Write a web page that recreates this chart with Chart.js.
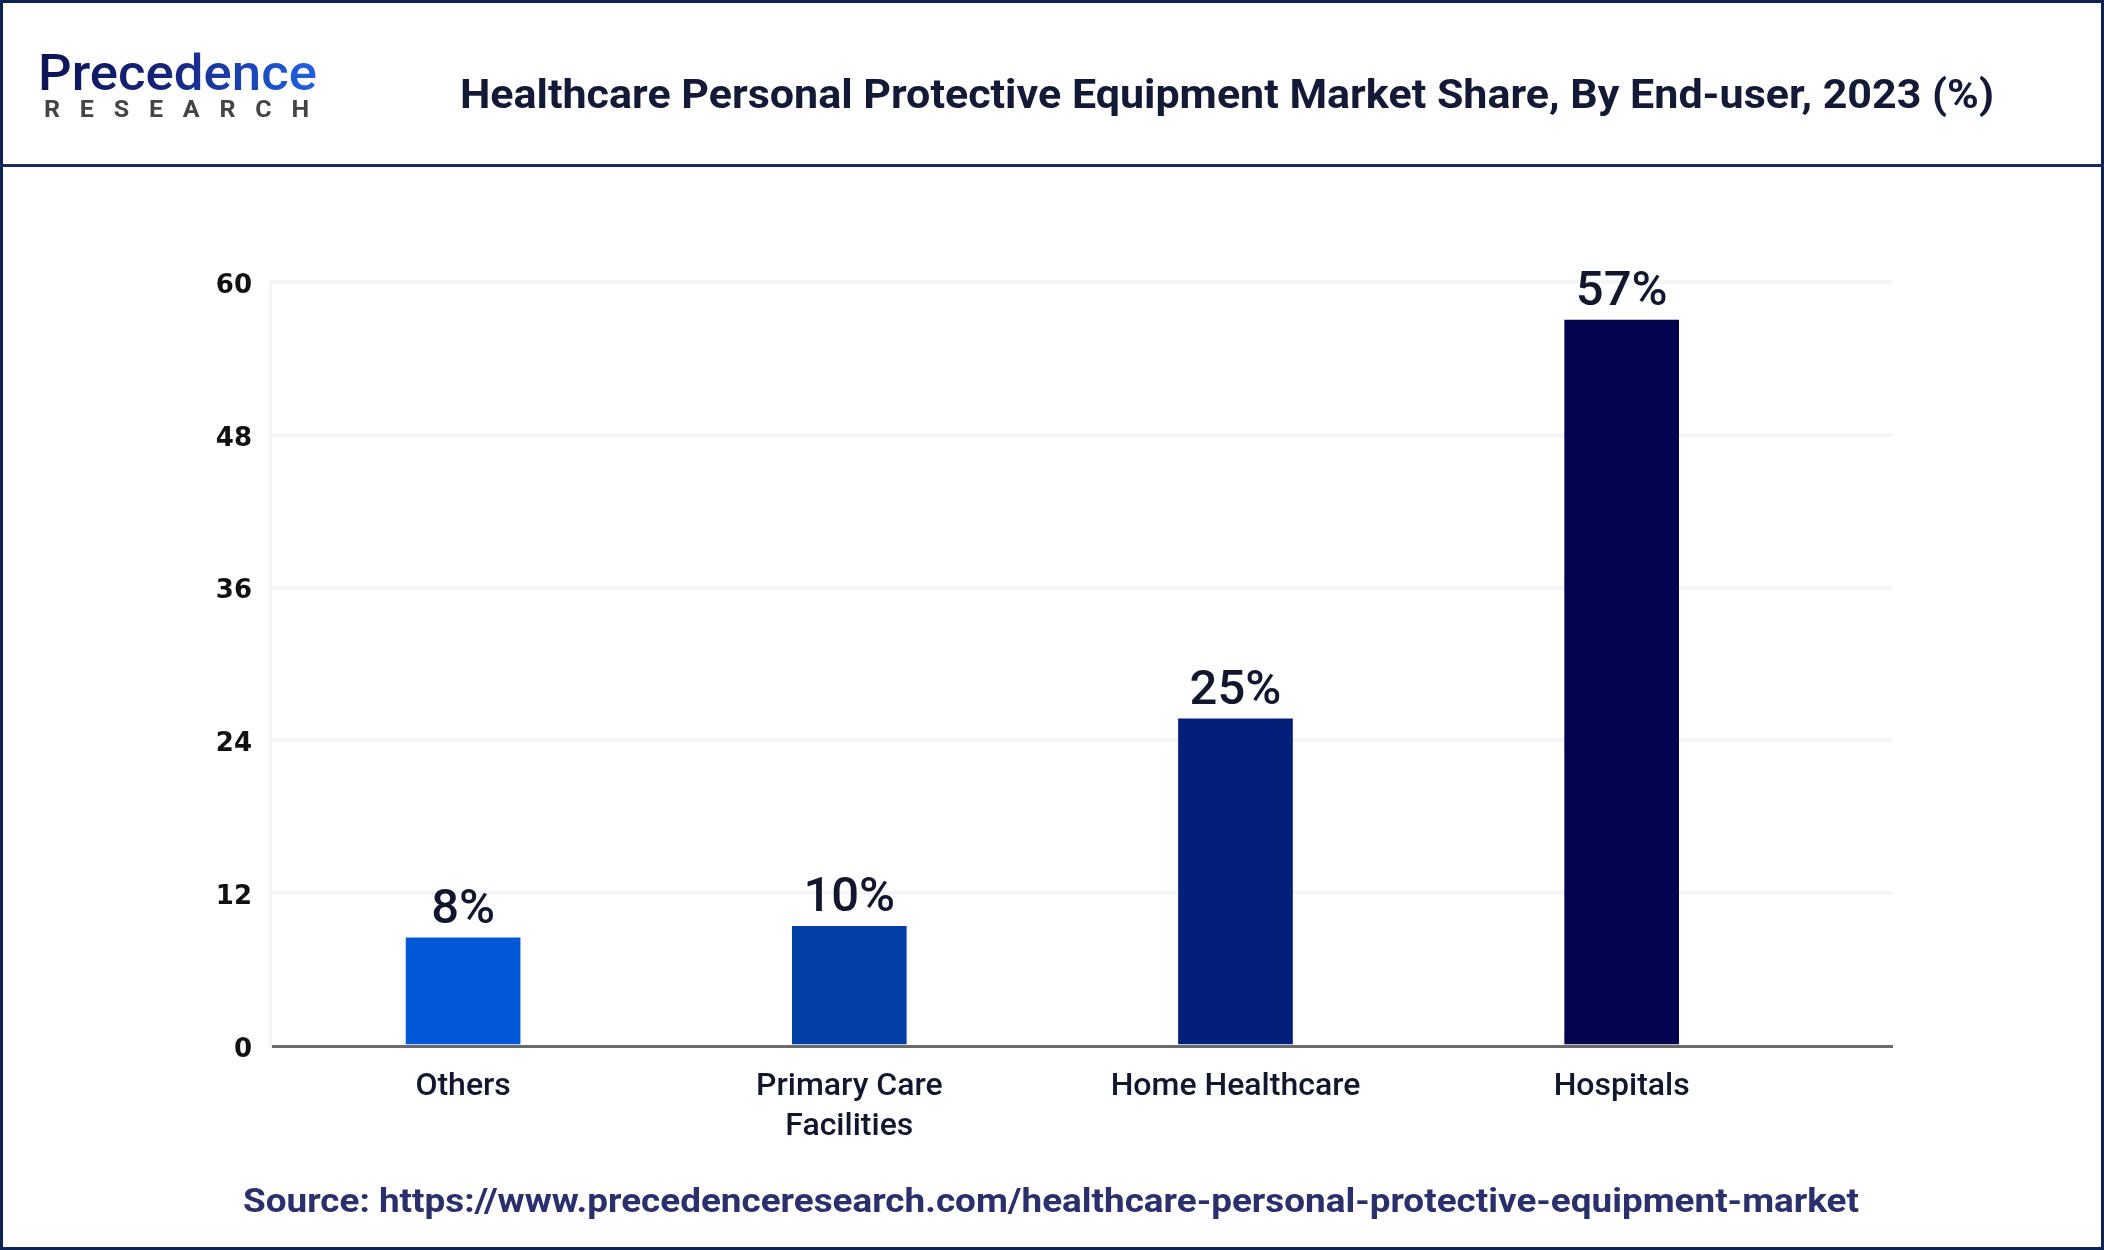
<!DOCTYPE html>
<html>
<head>
<meta charset="utf-8">
<script src="https://cdn.jsdelivr.net/npm/chart.js@4/dist/chart.umd.min.js"></script>
<style>
  html, body { margin: 0; padding: 0; background: #fff; }
  #page { position: relative; width: 2104px; height: 1250px; overflow: hidden; background: #fff; }
  #frame { position: absolute; left: 0; top: 0; width: 2098px; height: 1244px; border: 3px solid #0d2452; }
  #hline { position: absolute; left: 0; top: 164px; width: 2104px; height: 3px; background: #1b2a5e; }
  .txt { position: absolute; white-space: nowrap; line-height: 1; transform-origin: 0 0; }
  #title { left: 460px; top: 70px; font: 700 41px Roboto, sans-serif; color: #141a36; }
  #source { left: 243px; top: 1180px; font: 700 34px Roboto, sans-serif; color: #2b2f6b; }
  #logo1 { left: 38px; top: 44px; font: 500 50px Roboto, sans-serif;
           background: linear-gradient(90deg, #0c1456 0%, #16237a 45%, #1f62e6 100%);
           -webkit-background-clip: text; background-clip: text; color: transparent; }
  #logo2 { left: 44px; top: 95px; font: 700 24px Roboto, sans-serif; color: #444; letter-spacing: 19px; }
  #chartbox { position: absolute; left: 0; top: 170px; width: 2104px; height: 1000px; }
</style>
</head>
<body>
<div id="page">
  <div id="frame"></div>
  <div id="hline"></div>
  <div id="logo1" class="txt">Precedence</div>
  <div id="logo2" class="txt">RESEARCH</div>
  <div id="title" class="txt">Healthcare Personal Protective Equipment Market Share, By End-user, 2023 (%)</div>
  <div id="chartbox"><canvas id="c" width="2104" height="1000"></canvas></div>
  <div id="source" class="txt">Source: https://www.precedenceresearch.com/healthcare-personal-protective-equipment-market</div>
</div>
<script>
// ---- data ----
const categories = [["Others"], ["Primary Care", "Facilities"], ["Home Healthcare"], ["Hospitals"]];
const shareValues = [8.5, 9.4, 25.7, 57.0];
const valueLabels = ["8%", "10%", "25%", "57%"];
const barColors = ["#0058d6", "#013fa6", "#021f7a", "#03034f"];
const yTicks = [0, 12, 24, 36, 48, 60];

function fitWidth(id, w) {
  const el = document.getElementById(id);
  el.style.transform = 'none';
  const r = el.getBoundingClientRect().width;
  el.style.transform = 'scaleX(' + (w / r) + ')';
}

const valueLabelPlugin = {
  id: 'valueLabels',
  afterDatasetsDraw(chart) {
    const ctx = chart.ctx;
    const meta = chart.getDatasetMeta(0);
    ctx.save();
    ctx.font = '500 49px Roboto, sans-serif';
    ctx.fillStyle = '#13172e';
    ctx.textAlign = 'center';
    ctx.textBaseline = 'alphabetic';
    meta.data.forEach((el, i) => {
      ctx.fillText(valueLabels[i], el.x, el.y - 15);
    });
    ctx.restore();
  }
};

function build() {
  fitWidth('title', 1534);
  fitWidth('source', 1616);
  fitWidth('logo1', 279);
  fitWidth('logo2', 285);

  new Chart(document.getElementById('c'), {
    type: 'bar',
    data: {
      datasets: [{
        data: shareValues.map((v, i) => ({ x: i, y: v })),
        backgroundColor: barColors,
        borderWidth: 0,
        barThickness: 114
      }]
    },
    options: {
      responsive: false,
      devicePixelRatio: 1,
      animation: false,
      layout: { padding: { top: 112, right: 212, left: 0, bottom: 0 } },
      plugins: { legend: { display: false }, tooltip: { enabled: false } },
      scales: {
        x: {
          type: 'linear',
          min: -0.5,
          max: 3.7,
          offset: false,
          grid: { display: false, drawTicks: false },
          border: { display: true, color: '#6b6b6b', width: 3 },
          afterBuildTicks: (axis) => { axis.ticks = categories.map((c, i) => ({ value: i })); },
          afterFit: (axis) => { axis.height = 124; },
          ticks: {
            autoSkip: false,
            maxRotation: 0,
            padding: 21,
            color: '#13172e',
            font: { family: 'Roboto', weight: '500', size: 32, lineHeight: 1.25 },
            callback: (v) => categories[v] || ''
          }
        },
        y: {
          min: 0,
          max: 60,
          afterBuildTicks: (axis) => { axis.ticks = yTicks.map(v => ({ value: v })); },
          afterFit: (axis) => { axis.width = 270; },
          grid: {
            drawTicks: false,
            lineWidth: 4,
            color: (c) => c.tick && c.tick.value === 0 ? 'rgba(0,0,0,0)' : '#f5f5f5'
          },
          border: { display: true, color: '#f5f5f5', width: 3 },
          ticks: {
            padding: 18,
            labelOffset: 4,
            color: '#111111',
            font: { family: 'DejaVu Sans', weight: 'bold', size: 26 }
          }
        }
      }
    },
    plugins: [valueLabelPlugin]
  });
}

if (document.fonts && document.fonts.ready) {
  document.fonts.load('700 41px Roboto').then(() => document.fonts.ready).then(build, build);
} else {
  build();
}
</script>
</body>
</html>
